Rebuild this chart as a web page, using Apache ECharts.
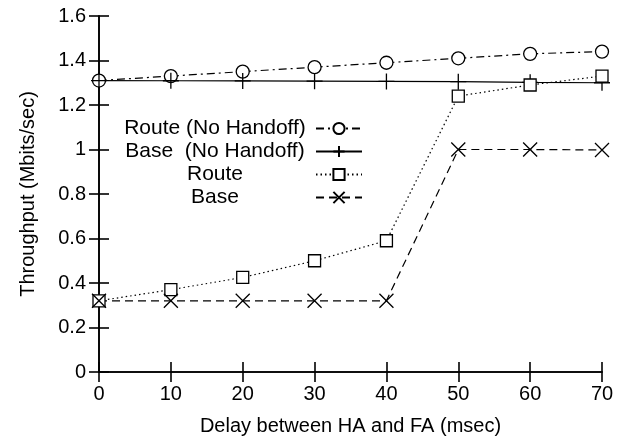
<!DOCTYPE html>
<html><head><meta charset="utf-8">
<script src="https://cdn.jsdelivr.net/npm/echarts@6/dist/echarts.min.js"></script>
<style>html,body{margin:0;padding:0;background:#fff}#c{width:621px;height:441px}</style>
</head><body><div id="c"></div>
<script>
const delays = [0, 10, 20, 30, 40, 50, 60, 70];
const routeNoHandoff = [1.31, 1.33, 1.35, 1.37, 1.39, 1.41, 1.43, 1.44];
const baseNoHandoff = [1.31, 1.309, 1.308, 1.307, 1.306, 1.305, 1.302, 1.30];
const route = [0.32, 0.37, 0.425, 0.50, 0.59, 1.24, 1.29, 1.33];
const base = [0.32, 0.32, 0.32, 0.32, 0.32, 1.0, 1.0, 0.998];
const yTicks = ['0','0.2','0.4','0.6','0.8','1','1.2','1.4','1.6'];
const names = ['Route (No Handoff)', 'Base  (No Handoff)', 'Route', 'Base'];

const FONT = 'Liberation Sans';
const FS = 20;
const pair = (arr) => delays.map((d, i) => [d, arr[i]]);
const plusPath = 'path://M5,0 L5,10 M0,5 L10,5';
const crossPath = 'path://M0,0 L10,10 M10,0 L0,10';
const axisCommon = {
  axisLine: {show: true, lineStyle: {color: '#000', width: 1.6}},
  axisTick: {show: true, inside: true, length: 10, lineStyle: {color: '#000', width: 1.6}},
  splitLine: {show: false}
};
const mk = (name, data, symbol, size, lineType) => ({
  name, type: 'line', data: pair(data), symbol, symbolSize: size, symbolKeepAspect: true,
  showAllSymbol: true,
  lineStyle: {color: '#000', width: 1.2, type: lineType},
  itemStyle: {color: '#fff', borderColor: '#000', borderWidth: 1.3},
  emphasis: {disabled: true}
});
const chart = echarts.init(document.getElementById('c'), null, {renderer: 'canvas'});
chart.setOption({
  animation: false,
  backgroundColor: '#fff',
  textStyle: {fontFamily: FONT},
  grid: {left: 99, right: 19, top: 16, bottom: 67},
  legend: {
    orient: 'vertical', left: 114, top: 113, itemWidth: 46, itemHeight: 14, itemGap: 2,
    align: 'right', data: names,
    formatter: (n) => '{a|' + n + '}',
    textStyle: {fontFamily: FONT, fontSize: 21, color: '#000',
      rich: {a: {fontFamily: FONT, fontSize: 21, lineHeight: 20.5, color: '#000', width: 192, align: 'center'}}}
  },
  xAxis: [
    Object.assign({type: 'value', min: 0, max: 70, interval: 10, position: 'bottom',
      name: 'Delay between HA and FA (msec)', nameLocation: 'middle', nameGap: 44,
      nameTextStyle: {fontFamily: FONT, fontSize: FS, color: '#000'},
      axisLabel: {fontFamily: FONT, fontSize: FS, color: '#000', margin: 12}}, axisCommon),
    Object.assign({type: 'value', min: 0, max: 70, interval: 10, position: 'top',
      axisLabel: {show: false}}, axisCommon)
  ],
  yAxis: [
    Object.assign({type: 'value', min: 0, max: 1.6, interval: 0.2, position: 'left',
      name: 'Throughput (Mbits/sec)', nameLocation: 'middle', nameGap: 61,
      nameTextStyle: {fontFamily: FONT, fontSize: FS, color: '#000'},
      axisLabel: {fontFamily: FONT, fontSize: FS, color: '#000', margin: 13,
        formatter: (v) => yTicks[Math.round(v / 0.2)]}}, axisCommon),
    Object.assign({type: 'value', min: 0, max: 1.6, interval: 0.2, position: 'right',
      axisLabel: {show: false}}, axisCommon)
  ],
  series: [
    mk(names[0], routeNoHandoff, 'circle', 13, [8, 4, 2, 4]),
    mk(names[1], baseNoHandoff, plusPath, 16, 'solid'),
    mk(names[2], route, 'rect', 12, [1.5, 3]),
    mk(names[3], base, crossPath, 14, [8, 5])
  ]
});
</script></body></html>
